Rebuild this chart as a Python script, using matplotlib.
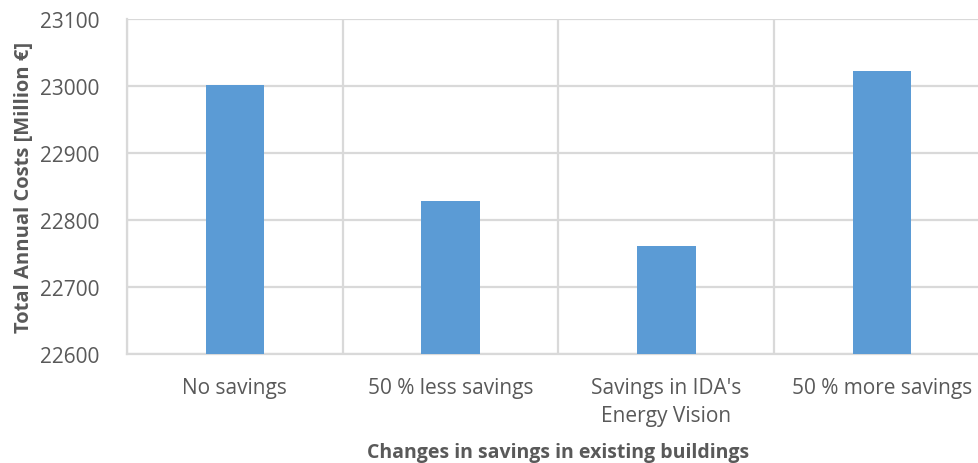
import matplotlib
matplotlib.use("Agg")
import matplotlib.pyplot as plt
from matplotlib.ticker import FixedLocator

categories = ["No savings", "50 % less savings", "Savings in IDA's\nEnergy Vision", "50 % more savings"]
values = [23002, 22828, 22762, 23023]
yticks = [22600, 22700, 22800, 22900, 23000, 23100]

plt.rcParams['font.family'] = ['Open Sans', 'DejaVu Sans']
text_color = '#595959'
grid_color = '#d9d9d9'
bar_color = '#5b9bd5'

fig = plt.figure(figsize=(9.79, 4.64), dpi=100)
ax = fig.add_axes([127/979, 108.7/464, 863/979, 335.3/464])

x = list(range(len(categories)))
ax.bar(x, values, width=0.272, color=bar_color, zorder=3)
ax.set_xlim(-0.5, len(categories) - 0.5)
ax.set_ylim(22600, 23100)
ax.set_yticks(yticks)
ax.set_yticklabels([str(t) for t in yticks])
ax.set_xticks(x)
ax.set_xticklabels(categories, linespacing=1.45)
ax.xaxis.set_minor_locator(FixedLocator([i + 0.5 for i in range(-1, len(categories))]))

ax.grid(axis='y', which='major', color=grid_color, linewidth=1.6, zorder=0)
ax.grid(axis='x', which='minor', color=grid_color, linewidth=1.6, zorder=0)
ax.grid(axis='x', which='major', visible=False)

for side in ['top', 'right']:
    ax.spines[side].set_visible(False)
for side in ['left', 'bottom']:
    ax.spines[side].set_color(grid_color)
    ax.spines[side].set_linewidth(1.6)

ax.tick_params(axis='both', which='both', length=0, colors=text_color, labelsize=15)
ax.tick_params(axis='y', pad=20)
ax.tick_params(axis='x', pad=16)

ax.set_ylabel('Total Annual Costs [Million €]', fontsize=14.5, fontweight='bold', color=text_color, labelpad=4)
ax.set_xlabel('Changes in savings in existing buildings', fontsize=14, fontweight='bold', color=text_color, labelpad=12)

fig.savefig('out.png', dpi=100)
